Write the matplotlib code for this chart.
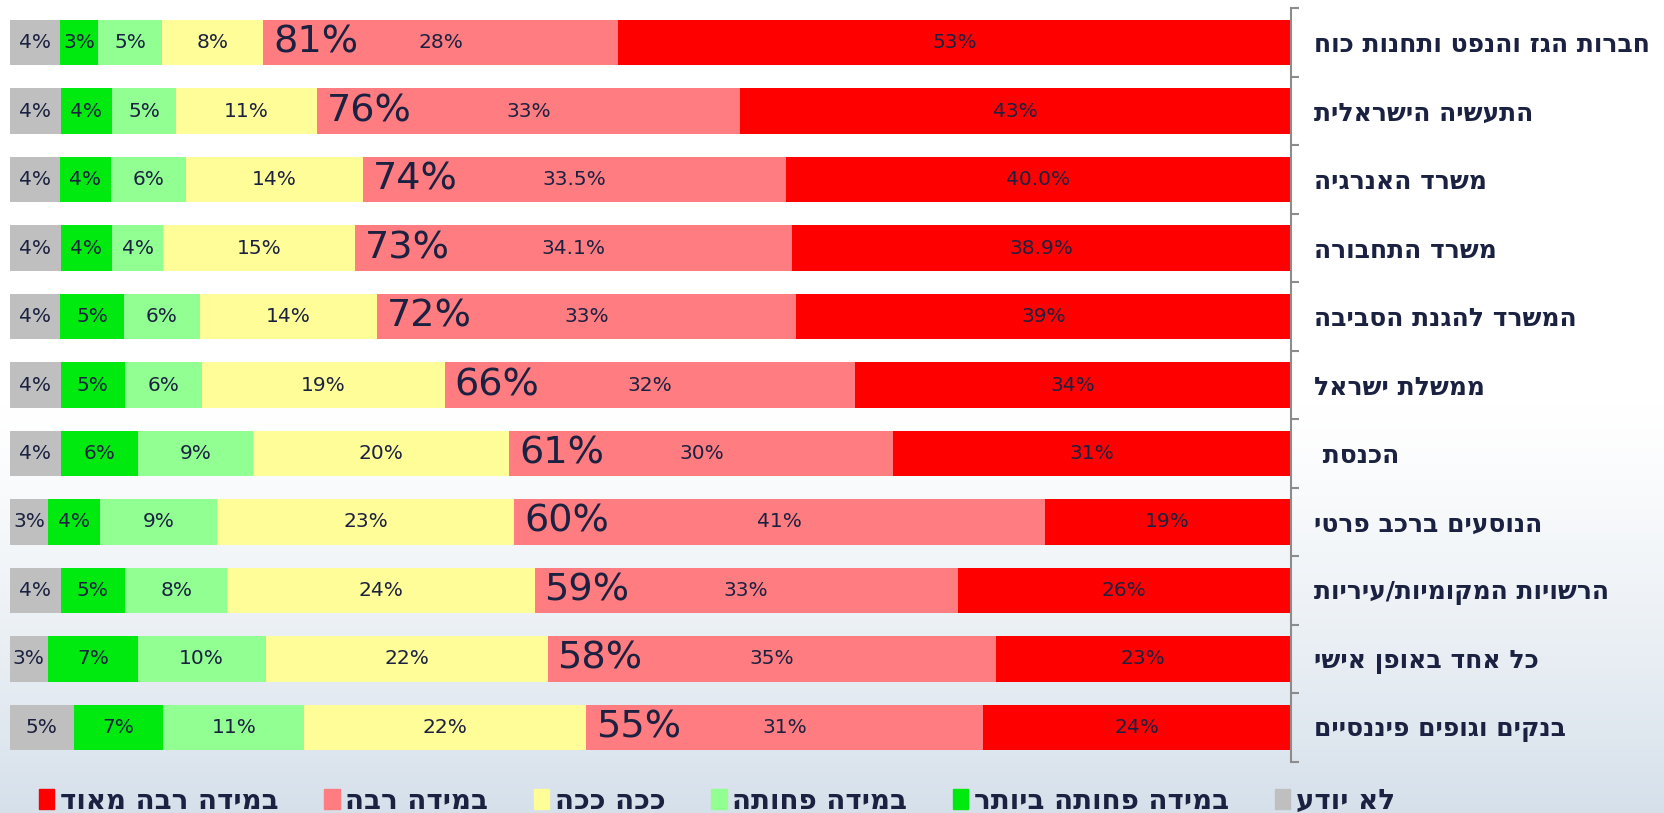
import numpy as np
import matplotlib
matplotlib.use('Agg')
import matplotlib.pyplot as plt
from matplotlib import font_manager as fm
from matplotlib.patches import Patch

# categories (top to bottom) and answer shares in %
categories = ["חברות הגז והנפט ותחנות כוח", "התעשיה הישראלית", "משרד האנרגיה",
              "משרד התחבורה", "המשרד להגנת הסביבה", "ממשלת ישראל", "הכנסת ",
              "הנוסעים ברכב פרטי", "הרשויות המקומיות/עיריות", "כל אחד באופן אישי",
              "בנקים וגופים פיננסיים"]
dont_know = [4, 4, 4, 4, 4, 4, 4, 3, 4, 3, 5]
least = [3, 4, 4, 4, 5, 5, 6, 4, 5, 7, 7]
less = [5, 5, 6, 4, 6, 6, 9, 9, 8, 10, 11]
so_so = [8, 11, 14, 15, 14, 19, 20, 23, 24, 22, 22]
much = [28, 33, 33.5, 34.1, 33, 32, 30, 41, 33, 35, 31]
very_much = [53, 43, 40.0, 38.9, 39, 34, 31, 19, 26, 23, 24]
# decimals shown on the "much"/"very much" labels
decimals = [0, 0, 1, 1, 0, 0, 0, 0, 0, 0, 0]

series_names = ["לא יודע", "במידה פחותה ביותר", "במידה פחותה", "ככה ככה",
                "במידה רבה", "במידה רבה מאוד"]
colors = ['#BFBFBF', '#00EA10', '#91FF91', '#FFFD98', '#FF7C80', '#FF0000']
txt = '#1B2140'


def rtl(s):
    # matplotlib has no bidi support, so flip hebrew to visual order
    return s[::-1]


names = {f.name for f in fm.fontManager.ttflist}
if 'Liberation Sans Narrow' in names:
    num_font, small_fs, big_fs = 'Liberation Sans Narrow', 18, 31
elif 'DejaVu Sans Condensed' in names:
    num_font, small_fs, big_fs = 'DejaVu Sans Condensed', 15.5, 28
else:
    num_font, small_fs, big_fs = 'DejaVu Sans', 14.5, 27.5
heb_font = 'DejaVu Sans'

fig = plt.figure(figsize=(16.64, 8.13), dpi=100)

# soft background fading to blue-grey at the bottom
bg = fig.add_axes([0, 0, 1, 1], zorder=-10)
t = np.clip((np.linspace(0, 1, 400) - 0.5) / 0.5, 0, 1) ** 1.2
top = np.array([1.0, 1.0, 1.0])
bottom = np.array([0.84, 0.88, 0.92])
img = (top[None, :] * (1 - t[:, None]) + bottom[None, :] * t[:, None])[:, None, :]
bg.imshow(img, aspect='auto', extent=[0, 1, 0, 1])
bg.axis('off')

ax = fig.add_axes([9.6 / 1664, 1 - 761.7 / 813, 1281 / 1664, 753.4 / 813])
ax.set_facecolor('none')

data = np.array([dont_know, least, less, so_so, much, very_much], dtype=float)
shares = data / data.sum(axis=0) * 100
n = len(categories)
y = np.arange(n)
left = np.zeros(n)
pink_left = None
for i in range(len(series_names)):
    bars = ax.barh(y, shares[i], left=left, height=0.666, color=colors[i])
    if i >= 4:
        labs = [f"{v:.{d}f}%" for v, d in zip(data[i], decimals)]
    else:
        labs = [f"{v:.0f}%" for v in data[i]]
    ax.bar_label(bars, labels=labs, label_type='center', fontsize=small_fs,
                 color=txt, family=num_font)
    if i == 4:
        pink_left = left.copy()
    left = left + shares[i]

# big totals (much + very much)
totals = np.array(much) + np.array(very_much)
for yi, x0, tot in zip(y, pink_left, totals):
    ax.annotate(f"{round(tot):.0f}%", xy=(x0, yi), xytext=(7, 0),
                textcoords='offset points', ha='left', va='center',
                fontsize=big_fs, color=txt, family=num_font)

ax.set_xlim(0, 100)
ax.set_ylim(n - 0.5, -0.5)
for s in ['top', 'left', 'bottom']:
    ax.spines[s].set_visible(False)
ax.spines['right'].set_color('#8C8C8C')
ax.spines['right'].set_linewidth(1.5)
ax.set_xticks([])
ax.yaxis.set_ticks_position('right')
ax.set_yticks(np.arange(n + 1) - 0.5)
ax.set_yticklabels([])
ax.set_yticks(y, minor=True)
ax.set_yticklabels([rtl(c) for c in categories], minor=True)
ax.tick_params(axis='y', which='major', length=6, width=1.5, color='#8C8C8C')
ax.tick_params(axis='y', which='minor', length=0, pad=16.5, labelsize=18,
               labelcolor=txt)
for lbl in ax.get_yticklabels(minor=True):
    lbl.set_fontweight('bold')
    lbl.set_family(heb_font)

handles = [Patch(color=c) for c in colors][::-1]
labels = [rtl(s) for s in series_names][::-1]
fig.legend(handles, labels, loc='center left', bbox_to_anchor=(39 / 1664, 1 - 801 / 813),
           ncol=6, frameon=False, handlelength=0.55, handleheight=0.75,
           handletextpad=0.2, columnspacing=1.65, borderpad=0, borderaxespad=0,
           labelcolor=txt, prop=dict(family=heb_font, weight='bold', size=20))

fig.savefig('out.png', dpi=100)
